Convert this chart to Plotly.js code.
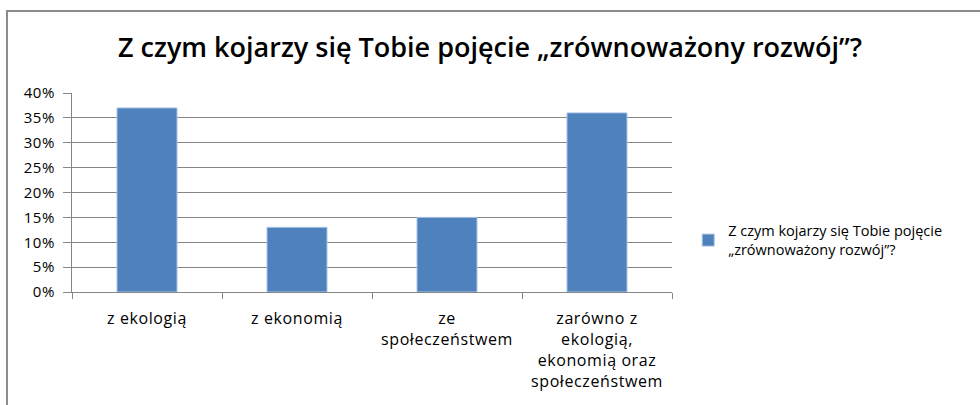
<!DOCTYPE html>
<html><head><meta charset="utf-8">
<script src="https://cdn.plot.ly/plotly-3.0.1.min.js"></script>
<style>
html,body{margin:0;padding:0;background:#fff;overflow:hidden;}
#frame{position:absolute;left:6px;top:10px;width:1000px;height:420px;border-left:2px solid #8c8c8c;border-top:2px solid #8c8c8c;}
#chart{position:absolute;left:0;top:0;width:980px;height:405px;}
#chart .xtick text, #chart .ytick text{letter-spacing:0.6px;}
</style></head>
<body>
<div id="frame"></div>
<div id="chart"></div>
<script>
var categories = ["z ekologią", "z ekonomią", "ze<br>społeczeństwem", "zarówno z<br>ekologią,<br>ekonomią oraz<br>społeczeństwem"];
var values = [0.37, 0.13, 0.15, 0.36];
var seriesName = "Z czym kojarzy się Tobie pojęcie<br>„zrównoważony rozwój”?";
var titleText = "Z czym kojarzy się Tobie pojęcie „zrównoważony rozwój”?";
var yTicks = [0, 0.05, 0.10, 0.15, 0.20, 0.25, 0.30, 0.35, 0.40];
var yTickLabels = ["0%", "5%", "10%", "15%", "20%", "25%", "30%", "35%", "40%"];

var trace = {
  type: "bar", x: categories, y: values, name: seriesName,
  marker: {color: "#4f81bd", line: {color: "#a9c4e6", width: 1}},
  showlegend: true, hoverinfo: "none"
};
var layout = {
  width: 980, height: 405,
  margin: {l: 72, r: 308, t: 93, b: 113},
  paper_bgcolor: "rgba(0,0,0,0)", plot_bgcolor: "#fff",
  font: {family: "Open Sans, sans-serif", color: "#000"},
  title: {text: titleText, font: {family: "Open Sans, sans-serif", size: 27, weight: 600, color: "#000"}, x: 0.5, xanchor: "center", y: 0.882, yanchor: "middle"},
  bargap: 0.6,
  xaxis: {
    showgrid: false, showline: true, linecolor: "#868686", linewidth: 1,
    ticks: "outside", ticklen: 6, tickcolor: "#868686", tickson: "boundaries",
    ticklabelstandoff: 12,
    tickfont: {family: "Open Sans, sans-serif", size: 16, color: "#000"},
    fixedrange: true
  },
  yaxis: {
    range: [0, 0.40], tickvals: yTicks, ticktext: yTickLabels,
    showgrid: true, gridcolor: "#868686", gridwidth: 1,
    showline: true, linecolor: "#868686", linewidth: 1,
    ticks: "outside", ticklen: 8, tickcolor: "#868686",
    ticklabelstandoff: 5,
    tickfont: {family: "Open Sans, sans-serif", size: 15, color: "#000"},
    zeroline: false, fixedrange: true
  },
  legend: {x: 1.027, xanchor: "left", y: 0.26, yanchor: "middle",
    font: {family: "Open Sans, sans-serif", size: 14.5, color: "#000"},
    itemwidth: 30,
    bgcolor: "rgba(0,0,0,0)"}
};
Plotly.newPlot("chart", [trace], layout, {staticPlot: true});
</script>
</body></html>
